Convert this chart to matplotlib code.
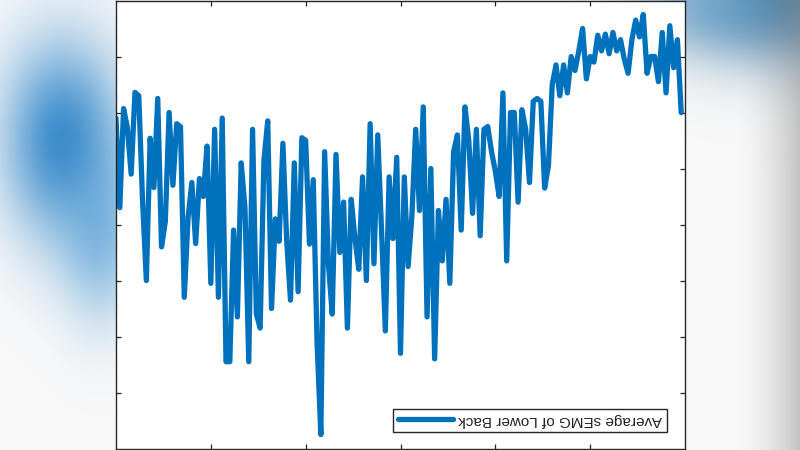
import numpy as np
import matplotlib
matplotlib.use("Agg")
import matplotlib.pyplot as plt

# -------------------------
# Data (average sEMG)
# -------------------------

semg = [
    2.1, 3.7, 1.93, 2.27, 3.1, 1.64, 1.7, 3.57, 5.0, 2.46,
    3.34, 1.75, 4.4, 3.95, 2.0, 3.3, 2.2, 2.25, 5.3, 3.87,
    3.25, 4.34, 3.18, 3.5, 2.6, 5.05, 2.3, 5.3, 2.1, 6.45,
    6.45, 4.1, 5.65, 2.9, 3.7, 6.45, 2.3, 5.6, 5.85, 2.85,
    2.15, 5.5, 3.9, 4.3, 2.55, 4.3, 5.35, 2.9, 5.2, 2.45,
    2.5, 4.35, 3.2, 6.1, 7.75, 2.7, 4.7, 5.6, 2.75, 4.5,
    3.6, 5.85, 3.55, 4.25, 4.8, 3.15, 5.0, 2.2, 4.7, 2.4,
    4.1, 5.9, 3.15, 4.25, 2.8, 6.3, 3.15, 4.75, 3.85, 2.3,
    3.75, 1.9, 5.65, 3.0, 6.4, 3.75, 4.65, 3.55, 5.05, 2.7,
    2.4, 4.1, 1.9, 2.5, 3.8, 2.3, 4.2, 2.3, 2.25, 2.7,
    3.05, 3.5, 1.65, 4.65, 2.0, 2.0, 3.6, 1.95, 2.3, 3.25,
    1.8, 1.75, 1.8, 3.35, 2.95, 1.5, 1.15, 1.7, 1.15, 1.65,
    1.0, 1.25, 0.9, 0.5, 1.4, 1.0, 1.1, 0.62, 0.9, 0.6,
    0.95, 0.57, 0.9, 0.7, 1.05, 1.3, 0.7, 0.35, 0.65, 0.25,
    1.3, 1.0, 1.0, 1.45, 0.57, 1.65, 0.45, 1.2, 0.7, 2.0,
]
sample_step = 0.4
t = np.arange(len(semg)) * sample_step

x_ticks = [10, 20, 30, 40, 50]
y_ticks = [1, 2, 3, 4, 5, 6, 7]
label = "Average sEMG of Lower Back"

line_color = "#0072BD"
edge_color = "#262626"

# -------------------------
# Figure + blurred video background
# -------------------------

fig = plt.figure(figsize=(8, 4.5), dpi=100)

yy, xx = np.mgrid[0:450, 0:800]
bg = np.full((450, 800, 3), 0.975)


def blob(img, cx, cy, sx, sy, color, strength):
    w = strength * np.exp(-((xx - cx) ** 2 / (2 * sx ** 2) + (yy - cy) ** 2 / (2 * sy ** 2)))
    w = w[..., None]
    return img * (1 - w) + np.array(color) * w


bg = blob(bg, 62, 140, 42, 70, (0.20, 0.53, 0.79), 0.95)
bg = blob(bg, 100, 235, 28, 60, (0.25, 0.58, 0.82), 0.55)
bg = blob(bg, 800, 0, 95, 45, (0.22, 0.45, 0.62), 0.95)
bg = blob(bg, 720, 10, 50, 25, (0.40, 0.65, 0.82), 0.5)
gray = (np.clip((xx - 735) / 65.0, 0, 1) ** 1.6 * 0.5)[..., None]
bg = bg * (1 - gray) + 0.55 * gray

ax_bg = fig.add_axes([0, 0, 1, 1], zorder=-1)
ax_bg.imshow(bg, aspect="auto", interpolation="bilinear")
ax_bg.axis("off")

# -------------------------
# Main axes (frame is flipped upside down)
# -------------------------

ax = fig.add_axes([116 / 800, 1.5 / 450, 569 / 800, 448 / 450])
ax.set_facecolor("white")

ax.plot(t, semg, color=line_color, linewidth=3.8, solid_joinstyle="round",
        solid_capstyle="round", label=label)

ax.set_xlim(0, 60)
ax.set_ylim(8, 0)
ax.set_xticks(x_ticks)
ax.set_yticks(y_ticks)
ax.set_xticklabels([])
ax.set_yticklabels([])
ax.tick_params(direction="in", length=3.5, width=0.9, color=edge_color,
               top=True, right=True, bottom=True, left=True)
for sp in ax.spines.values():
    sp.set_color(edge_color)
    sp.set_linewidth(1.0)

leg = ax.legend(loc="lower right", bbox_to_anchor=(0.968, 0.037),
                borderaxespad=0, fancybox=False, framealpha=1,
                edgecolor=edge_color, handlelength=3.6, handletextpad=0.35,
                borderpad=0.3, prop={"family": "Liberation Sans", "size": 11})
leg.get_frame().set_linewidth(1.0)
for txt in leg.get_texts():
    txt.set_rotation(180)
    txt.set_color("#222222")

fig.savefig("out.png", dpi=100)
